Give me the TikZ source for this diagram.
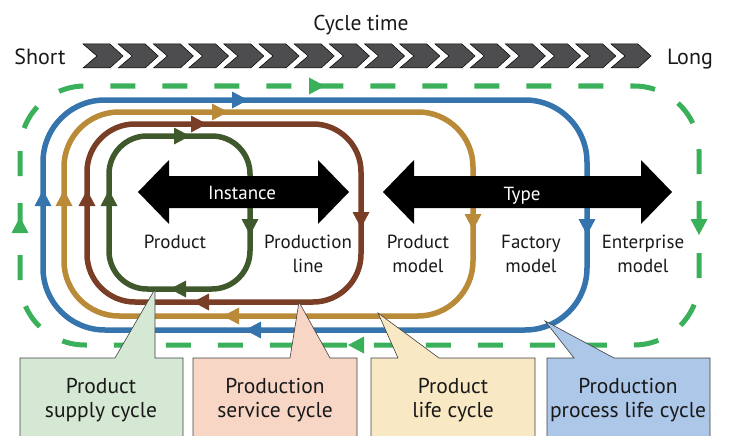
\documentclass[tikz,border=0pt]{standalone}
\usepackage{fontspec}
\setmainfont{PT Sans}
\definecolor{cycgreen}{HTML}{3BB05B}
\definecolor{cycblue}{HTML}{3574AD}
\definecolor{cycgold}{HTML}{B98A37}
\definecolor{cycbrown}{HTML}{7A3E26}
\definecolor{cycolive}{HTML}{3F592C}
\definecolor{boxgreen}{HTML}{D5E8D3}
\definecolor{boxpink}{HTML}{F7D6C6}
\definecolor{boxbeige}{HTML}{F9E8C4}
\definecolor{boxblue}{HTML}{ADC7E8}
\definecolor{chevgray}{HTML}{4D4D4F}
\begin{document}
\begin{tikzpicture}[x=1pt,y=-1pt,
	loopline/.style={line width=5.5,rounded corners=#1},
	callout/.style={draw=black!75,line width=0.6},
	lbl/.style={text=black!90,font=\fontsize{19}{23.5}\selectfont,align=center},
	boxlbl/.style={text=black!90,font=\fontsize{21.5}{24}\selectfont,align=center}]
	\useasboundingbox (0,0) rectangle (731,436);
	% time scale
	\foreach \i in {0,...,15}
		\draw [fill=chevgray,draw=black,line width=0.5] ({83+35.2*\i},44) -- ++(27,0) -- ++(13,12) -- ++(-13,12) -- ++(-27,0) -- ++(14,-12) -- cycle;
	\node (cycletime) [anchor=base,text=black!90,font=\fontsize{21.5}{24}\selectfont] at (361,31) {Cycle time};
	\node (short) [anchor=base,text=black!90,font=\fontsize{22}{24}\selectfont] at (40,64) {Short};
	\node (long) [anchor=base,text=black!90,font=\fontsize{22}{24}\selectfont] at (690,64) {Long};
	% cycles
	\draw [cycgreen,line width=5,dash pattern=on 25pt off 27pt,rounded corners=65] (20,86) rectangle (699,345);
	\draw [cycblue,loopline=62] (43,100) rectangle (587,330);
	\draw [cycgold,loopline=55] (64,112) rectangle (473,316);
	\draw [cycbrown,loopline=48] (87,124) rectangle (361,302);
	\draw [cycolive,loopline=38] (109,136) rectangle (250,289);
	% instance and type
	\fill [black] (138,192) -- (169,160) -- (169,176) -- (318,176) -- (318,160) -- (349,192) -- (318,224) -- (318,208) -- (169,208) -- (169,224) -- cycle;
	\fill [black] (383,192) -- (414,160) -- (414,176) -- (641,176) -- (641,160) -- (672,192) -- (641,224) -- (641,208) -- (414,208) -- (414,224) -- cycle;
	\node (instance) [anchor=base,text=white,font=\fontsize{19}{23}\selectfont] at (242,199) {Instance};
	\node (type) [anchor=base,text=white,font=\fontsize{19}{23}\selectfont] at (522,200) {Type};
	% direction marks
	\foreach \x/\y/\a in {325/86/0, 20/217/90, 699/235/-90, 348/345/180}
		\fill [cycgreen,shift={(\x,\y)},rotate=\a] (0,0) -- (-16,-8.5) -- (-16,8.5) -- cycle;
	\foreach \x/\y/\a in {248/100/0, 43/190/90, 587/235/-90, 245/330/180}
		\fill [cycblue,shift={(\x,\y)},rotate=\a] (0,0) -- (-16,-8.5) -- (-16,8.5) -- cycle;
	\foreach \x/\y/\a in {228/112/0, 64/190/90, 473/230/-90, 223/316/180}
		\fill [cycgold,shift={(\x,\y)},rotate=\a] (0,0) -- (-16,-8.5) -- (-16,8.5) -- cycle;
	\foreach \x/\y/\a in {207/124/0, 87/190/90, 361/228/-90, 193/302/180}
		\fill [cycbrown,shift={(\x,\y)},rotate=\a] (0,0) -- (-16,-8.5) -- (-16,8.5) -- cycle;
	\foreach \x/\y/\a in {190/136/0, 109/190/90, 250/235/-90, 170/289/180}
		\fill [cycolive,shift={(\x,\y)},rotate=\a] (0,0) -- (-16,-8.5) -- (-16,8.5) -- cycle;
	% levels
	\node (product) [lbl,anchor=base] at (175,248) {Product};
	\node (line) [lbl] at (308,254) {Production\\line};
	\node (pmodel) [lbl] at (418,254) {Product\\model};
	\node (fmodel) [lbl] at (531,254) {Factory\\model};
	\node (emodel) [lbl] at (643,254) {Enterprise\\model};
	% callouts
	\draw [callout,fill=boxgreen] (20,440) -- (20,358) -- (115,358) -- (155,289) -- (155,358) -- (183,358) -- (183,440);
	\draw [callout,fill=boxpink] (193,440) -- (193,358) -- (290,358) -- (299,302) -- (330,358) -- (357,358) -- (357,440);
	\draw [callout,fill=boxbeige] (371,440) -- (371,358) -- (398,358) -- (378,313) -- (439,358) -- (535,358) -- (535,440);
	\draw [callout,fill=boxblue] (547,440) -- (547,358) -- (574,358) -- (545,321) -- (614,358) -- (710,358) -- (710,440);
	\node (supply) [boxlbl] at (101,400) {Product\\supply cycle};
	\node (service) [boxlbl] at (275,400) {Production\\service cycle};
	\node (life) [boxlbl] at (453,400) {Product\\life cycle};
	\node (process) [boxlbl] at (628,400) {Production\\process life cycle};
\end{tikzpicture}
\end{document}
